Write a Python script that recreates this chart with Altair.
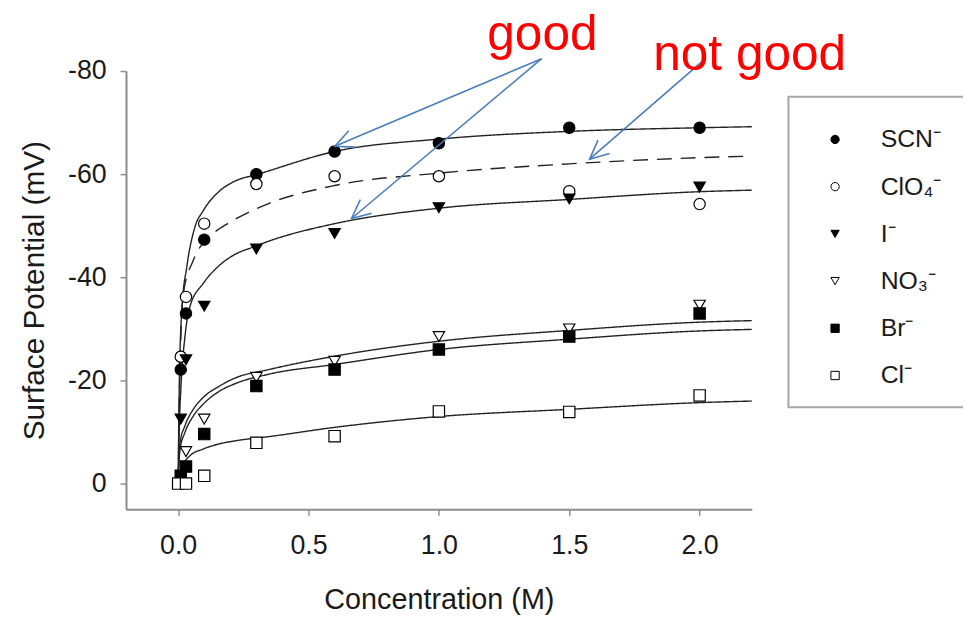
import math
import altair as alt
import pandas as pd

# ---------------- data ----------------
ions = ["SCN⁻", "ClO₄⁻", "I⁻", "NO₃⁻", "Br⁻", "Cl⁻"]
shapes = ["circle", "circle", "triangle-down", "triangle-down", "square", "square"]
fills = ["black", "white", "black", "white", "black", "white"]
dashes = [[1, 0], [15, 9], [1, 0], [1, 0], [1, 0], [1, 0]]

# measured points (Concentration M, Surface potential mV)
scn_x = [0.01, 0.03, 0.1, 0.3, 0.6, 1.0, 1.5, 2.0]
scn_y = [-22.1, -33.0, -47.3, -60.0, -64.4, -66.0, -69.0, -69.0]
clo4_x = [0.01, 0.03, 0.1, 0.3, 0.6, 1.0, 1.5, 2.0]
clo4_y = [-24.6, -36.2, -50.4, -58.1, -59.6, -59.6, -56.7, -54.2]
i_x = [0.01, 0.03, 0.1, 0.3, 0.6, 1.0, 1.5, 2.0]
i_y = [-12.5, -24.0, -34.4, -45.5, -48.5, -53.5, -55.2, -57.5]
no3_x = [0.03, 0.1, 0.3, 0.6, 1.0, 1.5, 2.0]
no3_y = [-6.2, -12.5, -20.6, -23.7, -28.5, -30.0, -34.6]
br_x = [0.01, 0.03, 0.1, 0.3, 0.6, 1.0, 1.5, 2.0]
br_y = [-1.5, -3.3, -9.6, -18.9, -22.1, -26.0, -28.5, -33.0]
cl_x = [0.0, 0.03, 0.1, 0.3, 0.6, 1.0, 1.5, 2.0]
cl_y = [0.0, 0.0, -1.5, -7.9, -9.2, -14.0, -13.9, -17.1]

# fitted curves
scn_fx = [0, 0.004, 0.014, 0.033, 0.064, 0.096, 0.158, 0.22, 0.3, 0.6, 1.0, 1.5, 2.0, 2.2]
scn_fy = [0, -18, -33.7, -42.0, -49.7, -52.9, -56.7, -58.7, -59.9, -64.4, -66.8, -68.3, -69.0, -69.2]
clo4_fx = [0, 0.004, 0.02, 0.058, 0.127, 0.196, 0.27, 0.347, 0.6, 1.0, 1.5, 2.0, 2.2]
clo4_fy = [0, -15, -36.9, -43.3, -48.1, -50.6, -52.6, -54.3, -57.8, -60.2, -62.0, -63.2, -63.5]
i_fx = [0, 0.004, 0.012, 0.025, 0.045, 0.096, 0.158, 0.22, 0.284, 0.347, 0.6, 1.0, 1.5, 2.0, 2.2]
i_fy = [0, -10, -20, -28, -34.3, -38.8, -42.3, -44.5, -45.8, -47.0, -50.4, -53.4, -55.1, -56.6, -56.9]
no3_fx = [0, 0.002, 0.0075, 0.026, 0.058, 0.096, 0.158, 0.22, 0.347, 0.6, 1.0, 1.5, 2.0, 2.2]
no3_fy = [0, -4, -8.0, -11.2, -14.4, -16.7, -18.9, -20.5, -22.1, -24.7, -27.6, -29.7, -31.3, -31.6]
br_fx = [0, 0.002, 0.0075, 0.026, 0.058, 0.096, 0.158, 0.22, 0.347, 0.6, 1.0, 1.5, 2.0, 2.2]
br_fy = [0, -3, -6.7, -9.9, -13.1, -15.4, -17.9, -19.4, -21.2, -23.1, -26.0, -28.0, -29.6, -29.9]
cl_fx = [0, 0.0075, 0.045, 0.096, 0.158, 0.22, 0.347, 0.6, 1.0, 1.5, 2.0, 2.2]
cl_fy = [0, -2.2, -5.4, -6.7, -7.7, -8.3, -9.1, -10.9, -13.0, -14.4, -15.7, -16.0]

# annotations
note_text = ["good", "not good"]
note_x = [1.397, 2.192]
note_y = [-84.0, -80.2]
arrow_x1 = [1.394, 1.394, 2.022]
arrow_y1 = [-82.4, -82.4, -82.4]
arrow_x2 = [0.601, 0.665, 1.578]
arrow_y2 = [-65.4, -51.4, -62.9]

x_ticks = [0, 0.5, 1.0, 1.5, 2.0]
y_ticks = [0, -20, -40, -60, -80]

# ---------------- layout ----------------
W, H = 631, 442
XD = [-0.2, 2.2]
YD = [-80, 5]
PAD_L, PAD_T = 119, 61
px_x = W / (XD[1] - XD[0])
px_y = H / (YD[1] - YD[0])


def dx(page_x):
    """page pixel x -> concentration units (for legend placement)"""
    return XD[0] + (page_x - 8 - PAD_L) / px_x


def dy(page_y):
    """page pixel y -> mV units (axis reversed: -80 at the top)"""
    return YD[0] + (page_y - 8 - PAD_T) / px_y


# ---------------- build tables ----------------
def long(xs, ys, name):
    return [{"ion": name, "c": x, "v": y} for x, y in zip(xs, ys)]

pts = pd.DataFrame(
    long(scn_x, scn_y, ions[0]) + long(clo4_x, clo4_y, ions[1]) + long(i_x, i_y, ions[2])
    + long(no3_x, no3_y, ions[3]) + long(br_x, br_y, ions[4]) + long(cl_x, cl_y, ions[5])
)
fits = pd.DataFrame(
    long(scn_fx, scn_fy, ions[0]) + long(clo4_fx, clo4_fy, ions[1]) + long(i_fx, i_fy, ions[2])
    + long(no3_fx, no3_fy, ions[3]) + long(br_fx, br_fy, ions[4]) + long(cl_fx, cl_fy, ions[5])
)

arrows = pd.DataFrame({"x1": arrow_x1, "y1": arrow_y1, "x2": arrow_x2, "y2": arrow_y2})
arrows["ang"] = [
    math.degrees(math.atan2((b2 - b1) * px_y, (a2 - a1) * px_x)) % 360
    for a1, b1, a2, b2 in zip(arrow_x1, arrow_y1, arrow_x2, arrow_y2)
]
notes = pd.DataFrame({"label": note_text, "c": note_x, "v": note_y})

# legend table (positions derived from the legend layout, not from data)
LEG_TOP, LEG_STEP = 138, 47.6
leg = pd.DataFrame({
    "ion": ions,
    "sx": [dx(842)] * len(ions),
    "tx": [dx(888)] * len(ions),
    "ly": [dy(LEG_TOP + k * LEG_STEP) for k in range(len(ions))],
})
box = pd.DataFrame({"bx1": [dx(795)], "bx2": [dx(1100)], "by1": [dy(95)], "by2": [dy(408)]})

FONT = "Liberation Sans"
TXT = "#1a1a1a"
AX = "#8c8c8c"

x_scale = alt.Scale(domain=XD, nice=False, zero=False)
y_scale = alt.Scale(domain=YD, nice=False, zero=False, reverse=True)
shape_scale = alt.Scale(domain=ions, range=shapes)
fill_scale = alt.Scale(domain=ions, range=fills)

x_axis = alt.Axis(
    values=x_ticks, format=".1f", title="Concentration (M)", grid=False,
    labelFontSize=27, titleFontSize=29, labelPadding=18, titlePadding=27,
)
y_axis = alt.Axis(
    values=y_ticks, title="Surface Potential (mV)", grid=False,
    labelExpr="(datum.value < 0 ? '-' : '') + abs(datum.value)",
    labelFontSize=27, titleFontSize=30, labelPadding=14, titlePadding=18,
)


def X(f):
    return alt.X(f, scale=x_scale, axis=x_axis)


def Y(f):
    return alt.Y(f, scale=y_scale, axis=y_axis)


lines = alt.Chart(fits).mark_line(color="#222222", strokeWidth=1.4, interpolate="monotone").encode(
    x=X("c:Q"), y=Y("v:Q"), detail="ion:N",
    strokeDash=alt.StrokeDash("ion:N", scale=alt.Scale(domain=ions, range=dashes), legend=None),
)

points = alt.Chart(pts).mark_point(opacity=1, stroke="black", strokeWidth=1.2, size=130).encode(
    x=X("c:Q"), y=Y("v:Q"),
    shape=alt.Shape("ion:N", scale=shape_scale, legend=None),
    fill=alt.Fill("ion:N", scale=fill_scale, legend=None),
)

BLUE = "#4a7ebb"
rules = alt.Chart(arrows).mark_rule(color=BLUE, strokeWidth=1.6).encode(
    x=X("x1:Q"), y=Y("y1:Q"), x2="x2:Q", y2="y2:Q"
)
heads = alt.Chart(arrows).mark_point(
    shape="M -1 -0.47 L 0 0 L -1 0.47", filled=False, stroke=BLUE, strokeWidth=1.6,
    size=1444, opacity=1,
).encode(x=X("x2:Q"), y=Y("y2:Q"), angle=alt.Angle("ang:Q", scale=None))

texts = alt.Chart(notes).mark_text(
    font=FONT, fontSize=50, color="#ff0000", align="center", baseline="alphabetic"
).encode(x=X("c:Q"), y=Y("v:Q"), text="label:N")

# legend (box, symbols, labels)
leg_box = alt.Chart(box).mark_rect(fill="white", fillOpacity=0, stroke="#a6a6a6", strokeWidth=2).encode(
    x=X("bx1:Q"), x2="bx2:Q", y=Y("by1:Q"), y2="by2:Q"
)
leg_sym = alt.Chart(leg).mark_point(opacity=1, stroke="black", strokeWidth=1, size=70).encode(
    x=X("sx:Q"), y=Y("ly:Q"),
    shape=alt.Shape("ion:N", scale=shape_scale, legend=None),
    fill=alt.Fill("ion:N", scale=fill_scale, legend=None),
)
leg_txt = alt.Chart(leg).mark_text(
    font=FONT, fontSize=25, color=TXT, align="left", baseline="middle"
).encode(x=X("tx:Q"), y=Y("ly:Q"), text="ion:N")

chart = (
    alt.layer(lines, points, rules, heads, texts, leg_box, leg_sym, leg_txt)
    .properties(
        width=W, height=H,
        padding={"left": PAD_L, "top": PAD_T, "right": 963 - PAD_L - W, "bottom": 108},
        autosize=alt.AutoSizeParams(type="none"),
    )
    .configure_view(stroke=None)
    .configure_axis(
        domainColor=AX, domainWidth=2, tickColor=AX, tickWidth=1.5, tickSize=6,
        labelFont=FONT, titleFont=FONT, labelColor=TXT, titleColor=TXT,
        titleFontWeight="normal",
    )
)

chart.save("out.html", embed_options={"renderer": "svg", "actions": False})
